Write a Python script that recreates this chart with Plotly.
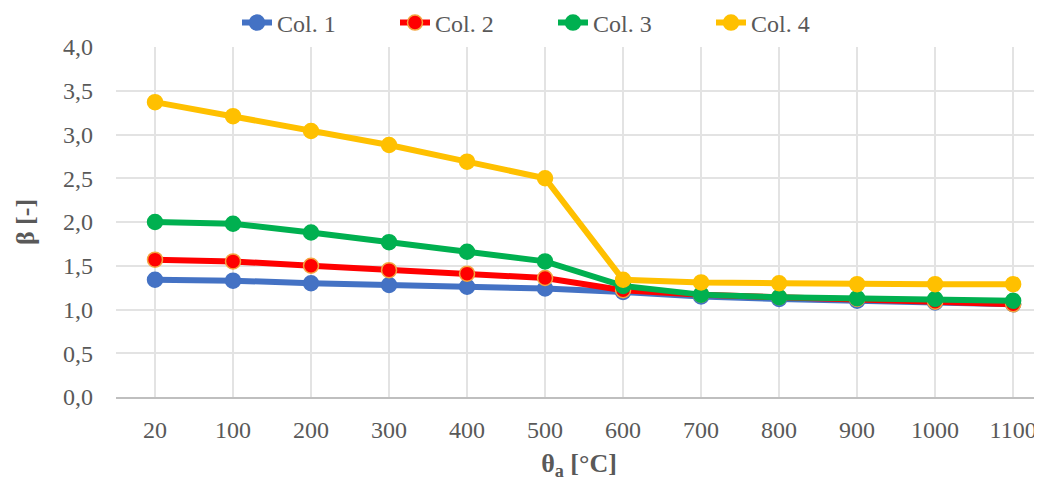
import plotly.graph_objects as go

temps = ["20", "100", "200", "300", "400", "500", "600", "700", "800", "900", "1000", "1100"]
col1 = [1.34, 1.33, 1.30, 1.28, 1.26, 1.24, 1.20, 1.15, 1.12, 1.10, 1.08, 1.06]
col2 = [1.57, 1.55, 1.50, 1.45, 1.41, 1.36, 1.22, 1.17, 1.14, 1.12, 1.09, 1.06]
col3 = [2.00, 1.98, 1.88, 1.77, 1.66, 1.55, 1.27, 1.17, 1.14, 1.13, 1.12, 1.10]
col4 = [3.37, 3.21, 3.04, 2.88, 2.69, 2.50, 1.34, 1.31, 1.30, 1.29, 1.29, 1.29]
names = ["Col. 1", "Col. 2", "Col. 3", "Col. 4"]
y_ticks = [0, 0.5, 1.0, 1.5, 2.0, 2.5, 3.0, 3.5, 4.0]
y_labels = ["0,0", "0,5", "1,0", "1,5", "2,0", "2,5", "3,0", "3,5", "4,0"]

styles = [
    dict(line="#4472C4", marker="#4472C4", outline="#4472C4"),
    dict(line="#FF0000", marker="#FF0000", outline="#F4A540"),
    dict(line="#00B050", marker="#00B050", outline="#00B050"),
    dict(line="#FFC000", marker="#FFC000", outline="#FFC000"),
]

fig = go.Figure()
for name, vals, st in zip(names, [col1, col2, col3, col4], styles):
    fig.add_trace(go.Scatter(
        x=temps, y=vals, name=name, mode="lines+markers",
        line=dict(color=st["line"], width=6),
        marker=dict(color=st["marker"], size=15, line=dict(color=st["outline"], width=1.5)),
    ))

font_family = "Liberation Serif"
grey = "#595959"
W, H = 1034, 473
fig.update_layout(
    width=W, height=H,
    margin=dict(l=108, r=0, t=39, b=84, autoexpand=False),
    paper_bgcolor="white", plot_bgcolor="white",
    font=dict(family=font_family, color=grey, size=24),
    legend=dict(orientation="h", xref="container", yref="container",
                x=229 / W, xanchor="left", y=1 - 15 / H, yanchor="middle",
                font=dict(family=font_family, size=24, color=grey),
                entrywidth=113, entrywidthmode="pixels",
                tracegroupgap=0, bgcolor="rgba(0,0,0,0)"),
    xaxis=dict(type="category", range=[-0.5, 11.37], showgrid=True, gridcolor="#E3E3E3", gridwidth=1.5,
               showline=True, linecolor="#BFBFBF", linewidth=1.5, ticks="", automargin=False,
               ticklabelstandoff=10,
               tickfont=dict(family=font_family, size=24, color=grey),
               title=dict(text="<b>θ<sub>a</sub> [°C]</b>", font=dict(family=font_family, size=26, color=grey),
                          standoff=13),
               zeroline=False),
    yaxis=dict(range=[0, 4.0], tickvals=y_ticks, ticktext=y_labels, showgrid=True, automargin=False,
               gridcolor="#E3E3E3", gridwidth=1.5, zeroline=False, showline=False, ticks="",
               ticklabelstandoff=22,
               tickfont=dict(family=font_family, size=24, color=grey),
               title=dict(text="<b>β [-]</b>", font=dict(family=font_family, size=26, color=grey),
                          standoff=20)),
)
fig.write_html("out.html")
